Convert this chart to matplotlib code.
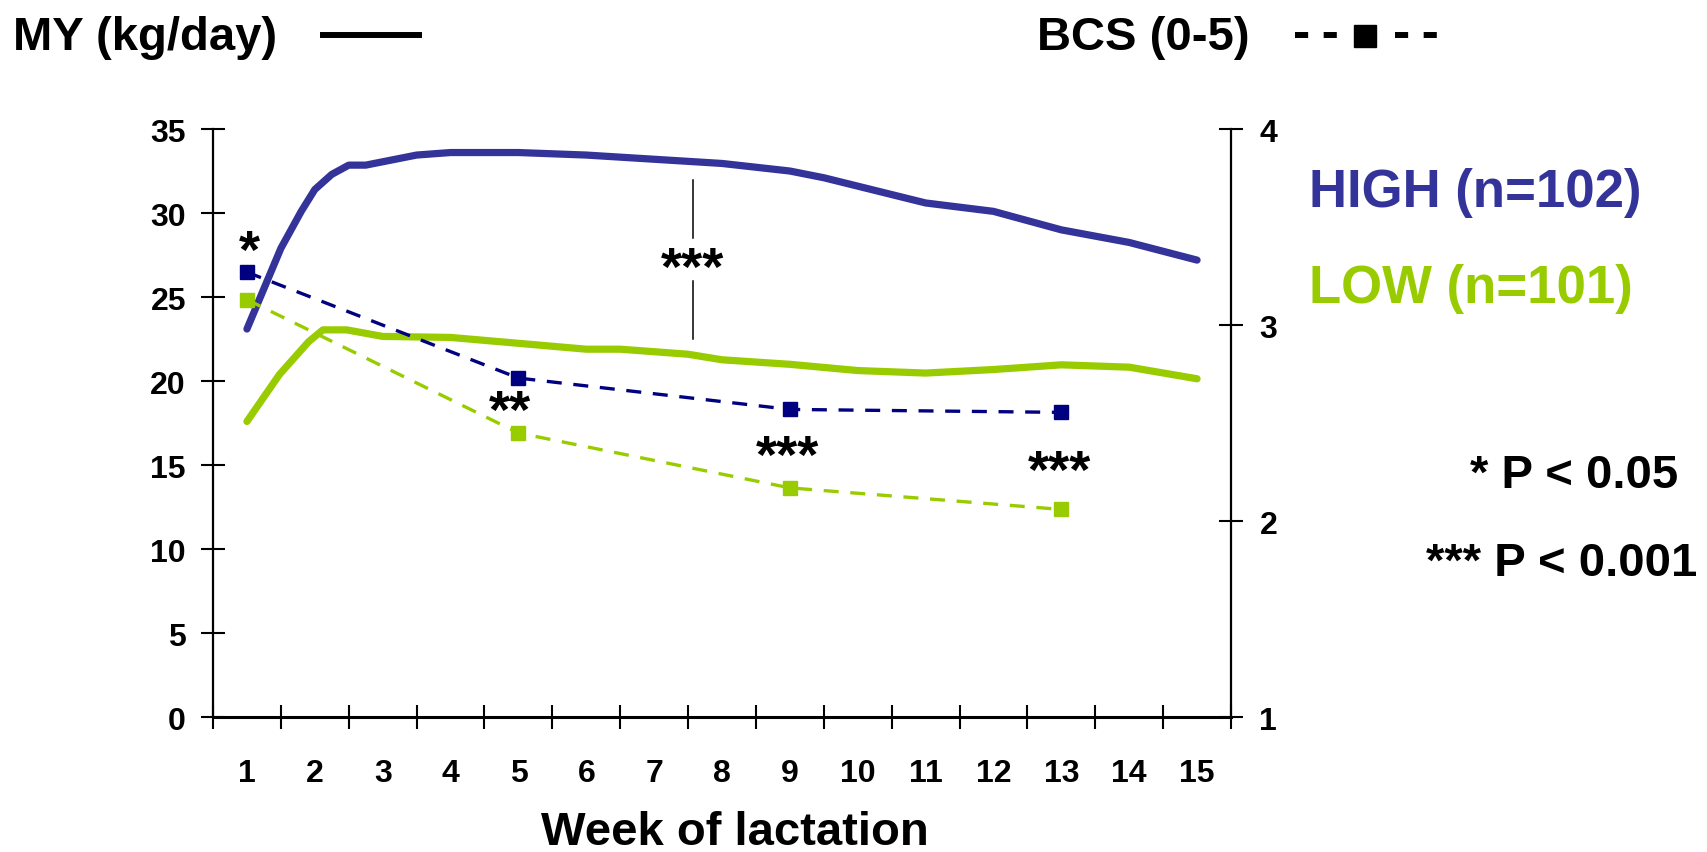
import matplotlib
matplotlib.use("Agg")
import matplotlib.pyplot as plt
from matplotlib.lines import Line2D

plt.rcParams["font.family"] = ["Liberation Sans", "DejaVu Sans"]
plt.rcParams["font.weight"] = "bold"

# Milk yield (kg/day), HIGH group
high_weeks = [1.0, 1.5, 1.65, 1.8, 2.0, 2.25, 2.5, 2.75, 3.0, 3.5, 4.0, 5.0,
              6.0, 7.0, 8.0, 9.0, 9.5, 10.0, 11.0, 12.0, 13.0, 14.0, 15.0]
high_my = [23.1, 27.9, 29.0, 30.1, 31.4, 32.3, 32.85, 32.85, 33.05, 33.45, 33.6, 33.6,
           33.45, 33.2, 32.95, 32.5, 32.1, 31.6, 30.6, 30.1, 29.0, 28.25, 27.2]

# Milk yield (kg/day), LOW group
low_weeks = [1.0, 1.48, 1.91, 2.12, 2.47, 3.0, 4.0, 5.0, 6.0, 6.5, 7.5, 8.0,
             9.0, 10.0, 11.0, 12.0, 13.0, 14.0, 15.0]
low_my = [17.6, 20.4, 22.35, 23.05, 23.05, 22.66, 22.6, 22.25, 21.9, 21.9, 21.6, 21.27,
          21.0, 20.63, 20.48, 20.69, 20.97, 20.83, 20.14]

# Body condition score (0-5)
bcs_weeks = [1, 5, 9, 13]
bcs_high = [3.27, 2.73, 2.57, 2.555]
bcs_low = [3.13, 2.45, 2.17, 2.06]

week_labels = [str(w) for w in range(1, 16)]
my_ticks = [0, 5, 10, 15, 20, 25, 30, 35]
bcs_ticks = [1, 2, 3, 4]

BLUE = "#333399"
NAVY = "#000080"
GREEN = "#99CC00"

W, H = 1708, 853


def fx(px):
    return px / W


def fy(py):
    return 1 - py / H


fig = plt.figure(figsize=(W / 100, H / 100), dpi=100)
ax = fig.add_axes([fx(213), fy(718.3), fx(1231) - fx(213), fy(130) - fy(718.3)])
ax2 = ax.twinx()

ax.plot(high_weeks, high_my, color=BLUE, lw=5.2, solid_capstyle="round", solid_joinstyle="round")
ax.plot(low_weeks, low_my, color=GREEN, lw=5.2, solid_capstyle="round", solid_joinstyle="round")

for vals, c in [(bcs_high, NAVY), (bcs_low, GREEN)]:
    ln, = ax2.plot(bcs_weeks, vals, color=c, lw=2.4, marker="s", ms=10.5,
                   markeredgecolor=c, markerfacecolor=c)
    ln.set_dashes([4.5, 3.5])

ax.set_xlim(0.5, 15.5)
ax.set_ylim(0, 35)
ax2.set_ylim(1, 4)

# tick marks between weeks, labels centred on weeks
ax.set_xticks([w + 0.5 for w in range(0, 16)])
ax.set_xticklabels([])
ax.set_xticks(range(1, 16), minor=True)
ax.set_xticklabels(week_labels, minor=True)
ax.tick_params(axis="x", which="major", direction="inout", length=17, width=1.5)
ax.tick_params(axis="x", which="minor", length=0, pad=29, labelsize=23)

ax.set_yticks(my_ticks)
ax.tick_params(axis="y", direction="inout", length=17, width=1.5, pad=11, labelsize=23)
ax2.set_yticks(bcs_ticks)
ax2.tick_params(axis="y", direction="inout", length=17, width=1.5, pad=12, labelsize=23)

for a in (ax, ax2):
    a.spines["top"].set_visible(False)
    for lab in a.get_xticklabels(which="both") + a.get_yticklabels():
        lab.set_fontweight("bold")
ax.spines["right"].set_visible(False)
ax.spines["left"].set_linewidth(1.6)
ax.spines["bottom"].set_linewidth(2.2)
ax2.spines["left"].set_visible(False)
ax2.spines["bottom"].set_visible(False)
ax2.spines["right"].set_linewidth(1.6)

# significance marks (x in weeks, baseline y in kg/day)
stars = [(1.04, 26.8, "*"), (4.87, 17.28, "**"), (7.57, 25.8, "***"),
         (8.97, 14.61, "***"), (12.97, 13.7, "***")]
for x, y, s in stars:
    ax.text(x, y, s, fontsize=39, fontweight="bold", ha="center", va="baseline", zorder=5)
ax.plot([7.57, 7.57], [31.98, 28.5], color="black", lw=1.1)
ax.plot([7.57, 7.57], [25.97, 22.5], color="black", lw=1.1)

# header legend
fig.text(fx(13), fy(50), "MY (kg/day)", fontsize=34, fontweight="bold", va="baseline")
fig.add_artist(Line2D([fx(323), fx(419)], [fy(36), fy(36)], color="black", lw=4.3,
                      transform=fig.transFigure))
fig.text(fx(1037), fy(50), "BCS (0-5)", fontsize=34, fontweight="bold", va="baseline")
for x0, x1 in [(1295, 1338), (1395, 1438)]:
    d = Line2D([fx(x0), fx(x1)], [fy(36), fy(36)], color="black", lw=4.3,
               transform=fig.transFigure)
    d.set_dashes([2.2, 2.6])
    fig.add_artist(d)
fig.add_artist(Line2D([fx(1365)], [fy(36.5)], color="black", marker="s", ms=16, lw=0,
                      transform=fig.transFigure))

fig.text(fx(1309), fy(206.5), "HIGH (n=102)", fontsize=38, fontweight="bold", color=BLUE, va="baseline")
fig.text(fx(1309), fy(302.5), "LOW (n=101)", fontsize=38, fontweight="bold", color=GREEN, va="baseline")
fig.text(fx(1678), fy(488), "* P < 0.05", fontsize=34, fontweight="bold", ha="right", va="baseline")
fig.text(fx(1697), fy(576.5), "*** P < 0.001", fontsize=34, fontweight="bold", ha="right", va="baseline")

fig.text(fx(735), fy(833), "Week of lactation", fontsize=34, fontweight="bold", ha="center", va="center")

fig.savefig("out.png", dpi=100)
